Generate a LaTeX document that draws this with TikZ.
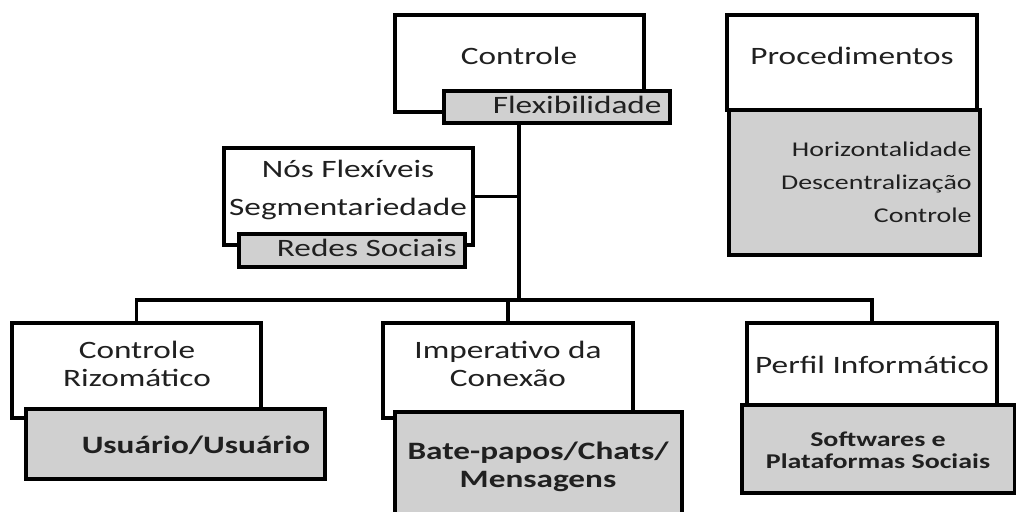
\documentclass[tikz,border=0pt]{standalone}
\usepackage{fontspec}
\setmainfont{Carlito}[FakeStretch=1.33]
\usepackage{tikz}
\usetikzlibrary{positioning}
\definecolor{boxgray}{HTML}{D0D0D0}
\definecolor{ink}{HTML}{202020}

\begin{document}
\begin{tikzpicture}[x=0.5pt,y=-0.5pt,
	wbox/.style={draw,fill=white,line width=1.6pt,inner sep=0pt},
	gbox/.style={draw,fill=boxgray,line width=1.6pt,inner sep=0pt},
	lbl/.style={inner sep=0pt,text=ink,font=\fontsize{12.5}{14}\selectfont},
	conn/.style={line width=1.6pt}]
\useasboundingbox (0,0) rectangle (1016,511);
% top row
\node [wbox,minimum width=124.5pt,minimum height=48.5pt] (ctrl) at (519.5,63.5) {};
\node [gbox,minimum width=113pt,minimum height=16pt] (flex) at (557,107) {};
\node [lbl,anchor=base] (ctrlT) at (519,64) {Controle};
\node [lbl,anchor=base east] (flexT) at (662,113) {Flexibilidade};
\node [wbox,minimum width=125pt,minimum height=47.5pt] (proc) at (852,62.5) {};
\node [gbox,minimum width=125.5pt,minimum height=72.5pt] (procg) at (854.5,182.5) {};
\node [lbl,anchor=base] (procT) at (852,64) {Procedimentos};
\node [lbl,anchor=base east,align=right,font=\fontsize{10.5}{16.5}\selectfont] (procgT) at (972,222)
	{Horizontalidade\\Descentraliza\c{c}\~ao\\Controle};
% middle
\node [wbox,minimum width=124.5pt,minimum height=48.5pt] (nos) at (348.5,196.5) {};
\node [gbox,minimum width=113pt,minimum height=16.5pt] (redes) at (352,250.5) {};
\node [lbl,anchor=base,align=center,font=\fontsize{12.5}{19}\selectfont] (nosT) at (348,215)
	{Nós Flexíveis\\Segmentariedade};
\node [lbl,anchor=base east] (redesT) at (457,256) {Redes Sociais};
% bottom row
\node [wbox,minimum width=124.5pt,minimum height=47.5pt] (riz) at (136.5,370.5) {};
\node [gbox,minimum width=149.5pt,minimum height=35pt] (usu) at (175.5,444) {};
\node [lbl,anchor=base,align=center] (rizT) at (137,386) {Controle\\Rizomático};
\node [lbl,anchor=base,font=\bfseries\fontsize{12.5}{14}\selectfont] (usuT) at (196,453) {Usuário/Usuário};
\node [wbox,minimum width=125pt,minimum height=47.5pt] (imp) at (508,370.5) {};
\node [gbox,minimum width=143.5pt,minimum height=55pt] (bate) at (538.5,467) {};
\node [lbl,anchor=base,align=center] (impT) at (508,386) {Imperativo da\\Conexão};
\node [lbl,anchor=base,align=center,font=\bfseries\fontsize{12.5}{14}\selectfont] (bateT) at (538,487)
	{Bate-papos/Chats/\\Mensagens};
\node [wbox,minimum width=125pt,minimum height=41pt] (perf) at (872,364) {};
\node [gbox,minimum width=136.5pt,minimum height=44pt] (soft) at (878.5,449) {};
\node [lbl,anchor=base] (perfT) at (872,373) {Perfil Informático};
\node [lbl,anchor=base,align=center,font=\bfseries\fontsize{10.5}{11}\selectfont] (softT) at (878,468)
	{Softwares e\\Plataformas Sociais};
% connectors
\coordinate (trunk) at (519,300);
\draw [conn] (trunk |- flex.south) -- (trunk);
\draw [conn] (nos.east) -- (nos.east -| trunk);
\draw [conn] (riz.north) |- (perf.north |- trunk) -- (perf.north);
\draw [conn] (imp.north) -- (imp.north |- trunk);
\end{tikzpicture}
\end{document}
